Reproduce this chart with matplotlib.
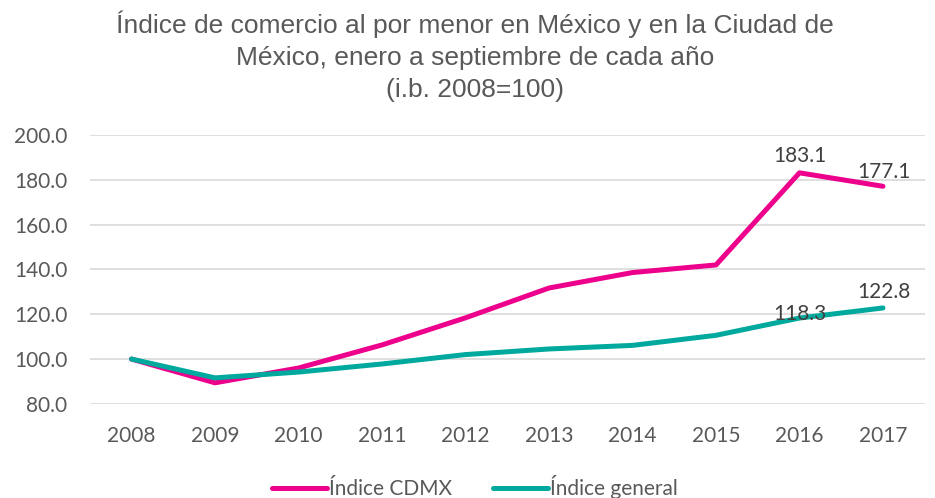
import matplotlib.pyplot as plt

years = [2008, 2009, 2010, 2011, 2012, 2013, 2014, 2015, 2016, 2017]
cdmx = [100.0, 89.4, 96.0, 106.3, 118.4, 131.7, 138.6, 142.0, 183.1, 177.1]
general = [100.0, 91.6, 94.2, 97.8, 102.0, 104.5, 106.1, 110.6, 118.3, 122.8]

pink = '#EC008C'
teal = '#00A99D'
grey = '#595959'
tick_font = ['Lato', 'DejaVu Sans']

fig = plt.figure(figsize=(9.35, 4.98), dpi=100)
ax = fig.add_axes([0.096, 0.189, 0.893, 0.540])

x = list(range(len(years)))
ax.plot(x, cdmx, color=pink, lw=3.6, solid_capstyle='round', label='Índice CDMX', zorder=3)
ax.plot(x, general, color=teal, lw=3.6, solid_capstyle='round', label='Índice general', zorder=4)

# etiquetas de los dos últimos años
offs_cdmx = {8: (0, 5), 9: (1, 3)}
offs_gen = {8: (0, -4), 9: (1, 4)}
for i in (8, 9):
    ax.annotate(f'{cdmx[i]:.1f}', (x[i], cdmx[i]), xytext=offs_cdmx[i], textcoords='offset points',
                ha='center', va='bottom', fontsize=15, color='#404040', family=tick_font, zorder=5)
    ax.annotate(f'{general[i]:.1f}', (x[i], general[i]), xytext=offs_gen[i], textcoords='offset points',
                ha='center', va='bottom', fontsize=15, color='#404040', family=tick_font, zorder=5)

ax.set_xlim(-0.5, len(years) - 0.5)
ax.set_ylim(80, 200)
ax.set_yticks(range(80, 201, 20))
ax.set_yticklabels([f'{v:.1f}' for v in range(80, 201, 20)])
ax.set_xticks(x)
ax.set_xticklabels([str(y) for y in years])
ax.grid(axis='y', color='#D9D9D9', lw=1.2)
ax.set_axisbelow(True)
for s in ax.spines.values():
    s.set_visible(False)
ax.tick_params(length=0, labelsize=15, labelcolor=grey)
ax.tick_params(axis='x', pad=16)
ax.tick_params(axis='y', pad=16)
for lab in ax.get_xticklabels() + ax.get_yticklabels():
    lab.set_family(tick_font)

fig.text(0.508, 0.978, 'Índice de comercio al por menor en México y en la Ciudad de\n'
         'México, enero a septiembre de cada año\n(i.b. 2008=100)',
         ha='center', va='top', fontsize=19, color=grey,
         family=['Liberation Sans', 'DejaVu Sans'], linespacing=1.42)

leg = fig.legend(loc='lower center', bbox_to_anchor=(0.508, -0.04), ncol=2, frameon=False,
                 prop={'family': tick_font, 'size': 15}, handlelength=2.6, handletextpad=0.1,
                 columnspacing=2.0)
for t in leg.get_texts():
    t.set_color(grey)

fig.savefig('out.png', dpi=100)
